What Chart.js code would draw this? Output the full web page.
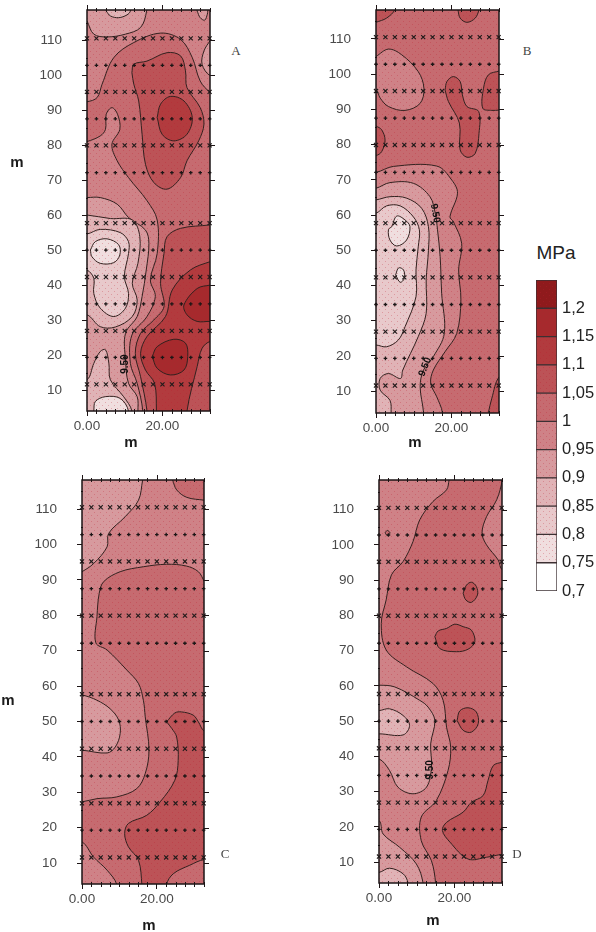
<!DOCTYPE html>
<html>
<head>
<meta charset="utf-8">
<title>MPa</title>
<script src="https://cdn.jsdelivr.net/npm/chart.js@4"></script>
<style>
    body { margin: 0; background: #fff; width: 596px; height: 932px; position: relative; overflow: hidden; }
    canvas { position: absolute; filter: blur(0.4px); }
    .t { position: absolute; transform: translate(-50%, -50%); color: #1c1c1c; white-space: nowrap; }
    .m { font: bold 15px "Liberation Sans", sans-serif; }
    .tag { font: 13px "Liberation Serif", serif; color: #444; }
    .unit { font: 19px "Liberation Sans", sans-serif; color: #222; }
</style>
</head>
<body>
<canvas id="panelA"></canvas>
<canvas id="panelB"></canvas>
<canvas id="panelC"></canvas>
<canvas id="panelD"></canvas>
<canvas id="scaleBar"></canvas>
<div class="t m" style="left:17px;top:161px">m</div>
<div class="t m" style="left:131px;top:441px">m</div>
<div class="t m" style="left:415px;top:441px">m</div>
<div class="t m" style="left:8px;top:699px">m</div>
<div class="t m" style="left:149px;top:924px">m</div>
<div class="t m" style="left:433px;top:919px">m</div>
<div class="t tag" style="left:236px;top:51px">A</div>
<div class="t tag" style="left:527px;top:51px">B</div>
<div class="t tag" style="left:225px;top:854px">C</div>
<div class="t tag" style="left:517px;top:854px">D</div>
<div class="t unit" style="left:556px;top:253px">MPa</div>
<script>
// sampling grid (m)
const sampleX = [0, 2.5, 5, 7.5, 10, 12.5, 15, 17.5, 20, 22.5, 25, 27.5, 30, 32.5];
const rowsCross = [110.5, 95.2, 79.9, 57.7, 42.3, 26.9, 11.6];
const rowsPlus = [102.8, 87.5, 72.1, 50, 34.6, 19.3];

// axis ticks
const yTicks = [10, 20, 30, 40, 50, 60, 70, 80, 90, 100, 110];
const xTicks = [0, 20];
const xMinorTicks = [2.5, 5, 7.5, 10, 12.5, 15, 17.5, 22.5, 25, 27.5, 30, 32.5];
const yMinorTicks = [15, 25, 35, 45, 55, 65, 75, 85, 95, 105, 115];

// colour bar
const levels = [0.7, 0.75, 0.8, 0.85, 0.9, 0.95, 1, 1.05, 1.1, 1.15, 1.2, 1.25];
const levelColors = ['#ffffff', '#f0dedf', '#e8c9cb', '#e0b3b6', '#d79a9e', '#cf8287', '#c66b70', '#bc5357', '#b23b3e', '#a62a2d', '#8f1a1c'];

// contour regions, painted in order: [lower level, [x m, y m]...]
const contoursA = [
    [0.95, [[-20, -20], [60, -20], [60, 150], [-20, 150]]],
    [0.9, [[0, 115.5], [1.8, 111.7], [5.3, 110.9], [10.2, 111.7], [14.2, 113.6], [15.8, 118.3], [16, 123], [-4, 123], [-4, 115.5]]],
    [0.85, [[5.1, 118.3], [6.2, 116.9], [8.4, 116.4], [10.6, 117.2], [11.5, 118.3], [12, 122], [5, 122]]],
    [0.9, [[29.2, 118.3], [30, 116.4], [31.2, 115.7], [31.9, 117.4], [32, 118.3], [32.5, 122], [29, 122]]],
    [0.9, [[32.7, 110], [31, 106.9], [30.5, 103.1], [32.7, 99.8], [36, 100], [36, 110]]],
    [1, [[-4, 92.5], [0, 92.4], [2.7, 93.6], [4, 97.4], [7.1, 105], [12.4, 109.3], [19.5, 112], [24.8, 110.2], [27.9, 105], [30, 98.3], [32.7, 95], [37, 92], [37, -3], [14.8, -3], [14.8, 4], [13.3, 11.9], [11.5, 17.6], [11.9, 25.7], [15.9, 31], [18.1, 36.7], [16.8, 41.5], [18.6, 49], [18.6, 58.6], [15.9, 64.1], [11, 70.7], [8, 75.5], [6.6, 80.2], [8.7, 84.5], [8.1, 88.8], [6.6, 90.7], [5.1, 88.8], [4.9, 84.5], [3.5, 82.6], [0, 81], [-4, 80]]],
    [1.05, [[11.9, 100.7], [12.4, 103.1], [15.9, 104], [21.2, 106.4], [24.8, 105.5], [26.1, 101.2], [26.5, 96.4], [30, 90.7], [31, 86], [29.6, 81.2], [26.5, 75.5], [24.8, 70.7], [21.2, 67.4], [17.7, 69.3], [15.5, 74.5], [14.6, 83.1], [13.7, 92.6], [12.4, 97.4]]],
    [1.1, [[18.6, 87.9], [19.5, 91.7], [22.1, 93.9], [25.7, 92.6], [27.9, 87.9], [26.5, 83.1], [23, 81.2], [19.9, 83.1]]],
    [1.05, [[37, 58], [32.7, 57.2], [24.8, 56.2], [21.2, 53.8], [20.4, 49], [19.5, 40.5], [20.4, 33.8], [17.7, 30], [14.2, 26.2], [12.8, 20.5], [14.2, 13.8], [15.9, 4], [16, -3], [37, -3]]],
    [1.1, [[37, 48], [32.7, 46.7], [27.4, 44.3], [22.6, 38.6], [20.8, 31], [15.9, 25.3], [14.2, 20.5], [15.5, 15.7], [17.9, 11.9], [18.4, 4], [18.4, -3], [26.5, -3], [26.5, 4], [29.2, 16.7], [30.5, 21.9], [32.7, 23.9], [37, 24]]],
    [1.15, [[37, 41], [32.7, 40], [29.2, 39], [25.7, 34.3], [26.5, 31.5], [29.2, 29.6], [32.7, 29.6], [37, 29]]],
    [1.15, [[17.3, 19.6], [18.6, 22.4], [23, 24.5], [26.1, 23.4], [26.7, 19.6], [25.7, 15.7], [22.1, 14.3], [18.6, 16.2]]],
    [0.9, [[-4, 65], [0, 65], [3.5, 65], [8, 63.1], [11, 59.3], [15.5, 55.7], [16.4, 51.9], [15.7, 44.3], [14.6, 36.7], [13.3, 31], [10.2, 26.2], [10.2, 18.6], [11, 11.9], [13.3, 8.1], [13.5, 4], [13.5, -3], [-4, -3]]],
    [0.85, [[-4, 60], [0, 60], [6.2, 59], [12, 58.6], [14, 53.8], [13.5, 46.2], [12, 40.5], [13.3, 35.7], [12, 31], [7.5, 28], [3.5, 28.1], [0, 31.5], [-4, 31]]],
    [0.8, [[-4, 54.6], [0, 54.6], [3.5, 55.9], [8.8, 55], [11, 52.4], [11, 49], [9.9, 42.4], [11, 37.6], [10.2, 33.4], [7.1, 31], [3.5, 33.4], [1.8, 37.6], [1.8, 41.9], [0, 44.3], [-4, 45]]],
    [0.75, [[0.9, 50], [2.2, 52.4], [5.3, 53.2], [8.4, 51.5], [8.7, 48.6], [7.1, 46.4], [3.5, 46.2], [1.3, 48.1]]],
    [0.85, [[-4, 13], [0, 12.9], [1.8, 17.6], [3.5, 21], [4.9, 21.5], [5.8, 17.6], [6.2, 12.9], [9.7, 8.1], [11.9, 4], [12, -3], [-4, -3]]],
    [0.75, [[1.8, 4], [2.2, 6.7], [4.9, 8.1], [8.8, 7.6], [11, 4], [11, -3], [2, -3]]]
];
const contoursB = [
    [1, [[-20, -20], [60, -20], [60, 150], [-20, 150]]],
    [1.05, [[0, 114.7], [2.8, 115.9], [5, 118.3], [5.5, 122], [-4, 122], [-4, 114.5]]],
    [1.05, [[21.7, 118.3], [22.3, 115.9], [24.1, 114.7], [26.3, 115.9], [27.3, 118.3], [28, 122], [21, 122]]],
    [1.05, [[0, 85.3], [1.5, 84.2], [2.4, 81.3], [1.5, 78], [0, 76.9], [-4, 77], [-4, 85]]],
    [1.05, [[18.3, 95.5], [18.8, 97.9], [20.5, 99.3], [22.3, 97.9], [22.9, 94.1], [24.1, 90.8], [27.2, 89.4], [27.3, 83.2], [26.3, 77.5], [24.1, 76.4], [22.3, 78.5], [22.1, 86.1], [19.2, 92.2]]],
    [1.05, [[32.7, 100.9], [29.8, 99.8], [28.5, 96], [28.3, 90.3], [30.7, 89.7], [32.7, 89.8], [37, 90], [37, 101]]],
    [1.05, [[29.8, 4], [30.7, 8], [32.7, 14.1], [37, 16], [37, -3], [30, -3]]],
    [0.95, [[0, 105], [3.3, 107.1], [6.8, 105.5], [11.2, 100.7], [12.7, 96], [11.7, 91.7], [7.7, 89.7], [3.3, 90.8], [1.1, 93.2], [0, 95.5], [-4, 95], [-4, 105]]],
    [0.95, [[-4, 72], [0, 72.1], [4.6, 73.8], [16.1, 73.9], [20.1, 69.9], [21.6, 66.2], [19.6, 59.5], [20.5, 58.1], [22.7, 52], [21.9, 44.4], [22.5, 35.9], [21.4, 26.4], [18.3, 21.2], [15.2, 16], [14.5, 12.2], [16.1, 8.4], [17.6, 3.9], [17.6, -3], [-4, -3]]],
    [0.9, [[-4, 67], [0, 67.6], [3.7, 69.2], [9.9, 69], [14.3, 65.2], [15.7, 60.5], [16.3, 55.8], [17, 48.2], [17.4, 37.8], [18.1, 26.4], [15.2, 19.8], [12.6, 16], [11.7, 11.3], [12.6, 3.9], [12.6, -3], [-4, -3]]],
    [0.85, [[-4, 64], [0, 64.3], [3.7, 65.2], [8.1, 64.8], [12.1, 61.9], [13.9, 56.7], [13.9, 50], [13.3, 41.6], [13.3, 32.1], [11.2, 25.5], [7.1, 16], [6.5, 13.6], [3.3, 15], [1.1, 13.6], [1.1, 10.3], [3.7, 7.4], [4, 3.9], [4, -3], [-4, -3]]],
    [0.8, [[-4, 60], [0, 60.5], [2.8, 62.6], [6.4, 62.6], [9.9, 59.5], [11.5, 55.8], [11.2, 51], [10.6, 44.4], [10.6, 36.8], [7.7, 28.3], [5.9, 24.5], [2.8, 22.6], [0, 23.1], [-4, 23]]],
    [0.75, [[4.2, 56.7], [5.5, 59.7], [7.7, 58.6], [9, 56.7], [8.1, 52.9], [5.5, 51.2], [3.7, 52.9], [3.3, 55.8]]],
    [0.75, [[5.2, 43], [6, 45], [7.3, 44.4], [7.5, 42], [6.4, 40.9]]]
];
const contoursC = [
    [0.95, [[-20, -20], [60, -20], [60, 150], [-20, 150]]],
    [0.9, [[16.2, 118.2], [15.1, 112.5], [11.5, 107.8], [7.1, 103.1], [6.7, 99.3], [3.1, 94.6], [0, 92.3], [-4, 90], [-4, 123], [16.5, 123]]],
    [1, [[24.2, 118.2], [25.3, 115.4], [28, 113.3], [32.7, 112.5], [37, 112], [37, 123], [24, 123]]],
    [1, [[32.7, 89.5], [31.1, 92.3], [27.9, 93.9], [22.6, 94.4], [16.4, 93.7], [10.2, 92.3], [5.8, 89.5], [4.6, 86.2], [4, 79.6], [3.7, 72.2], [6.7, 70.2], [12, 64.5], [15.1, 60.7], [16.4, 56], [16.9, 51.3], [17.9, 41.9], [16.9, 35.3], [14.6, 31], [9.3, 28.7], [4, 28.2], [0, 27.3], [-4, 27], [-4, 16], [0, 16], [3.1, 11.7], [6.7, 8], [9.3, 3.9], [9.5, -3], [37, -3], [37, 88]]],
    [0.9, [[-4, 58], [0, 57.5], [4, 56], [7.5, 53.6], [9.8, 50.4], [10.2, 46.6], [8.9, 42.8], [6.7, 41.1], [0, 41.9], [-4, 42]]],
    [1.05, [[22.6, 49.9], [24.8, 52.4], [26.6, 52.7], [29.7, 51.8], [31.1, 49.9], [32.7, 47.2], [37, 46], [37, 10.5], [32.7, 11], [28.8, 9.4], [24.4, 7], [22.6, 3.9], [22.6, -3], [16.3, -3], [16, 3.9], [15.1, 10.8], [12.4, 14.6], [11.4, 18.3], [12.4, 21.2], [17.3, 23.5], [20.9, 27.3], [24.8, 33.4], [25.7, 39], [25.3, 45.6], [24, 48]]]
];
const contoursD = [
    [0.95, [[-20, -20], [60, -20], [60, 150], [-20, 150]]],
    [1, [[18.6, 118.5], [17.9, 115.6], [14.3, 112.3], [10.8, 107.1], [9, 100.9], [6.4, 95.3], [3.3, 91.5], [1.9, 84.4], [0.6, 77.7], [1.9, 70.2], [7.3, 65.4], [14.3, 60.7], [17, 55.9], [17.9, 48.3], [19, 42.6], [18.3, 36], [15.2, 27.5], [11.2, 22.8], [11.2, 16.1], [13.9, 10.4], [15, 4], [15, -3], [37, -3], [37, 92], [32.7, 92.9], [31.6, 95.7], [28.5, 100], [27.3, 103.3], [28.5, 108], [31.2, 112.8], [32.7, 118.5], [33, 123], [18.5, 123]]],
    [1.05, [[22.3, 86.3], [23.2, 88.6], [24.5, 89.4], [25.8, 88.2], [26.1, 85.8], [24.5, 83.7], [23, 84.4]]],
    [1.05, [[14.8, 74], [15.7, 75.6], [17.9, 76.3], [20.1, 77.5], [22.3, 76.8], [24.5, 75.8], [25.4, 72.5], [23.6, 70.4], [20.5, 69.7], [16.1, 70.6]]],
    [1.05, [[20.7, 50.2], [21.4, 52.9], [23.6, 53.8], [25.8, 52.6], [26.3, 49.3], [24.5, 46.9], [22.3, 47.4]]],
    [1.05, [[32.7, 38.4], [30.3, 37.4], [28.9, 33.2], [27.6, 28.9], [24.5, 27], [22.3, 24.2], [17.9, 21.3], [16.8, 19], [18.8, 15.7], [23.6, 10.9], [28.5, 11.4], [32.7, 12.2], [37, 12], [37, 39]]],
    [0.9, [[-4, 39], [0, 39.3], [2.8, 36], [5, 31.3], [9, 29.4], [12.6, 31.3], [13.9, 37], [13.7, 43.6], [14.8, 50.2], [13, 54], [10.8, 55.9], [4.2, 59.7], [0, 60.2], [-4, 60]]],
    [0.85, [[-4, 53], [0, 53], [2.8, 53.5], [6.4, 51.6], [8.1, 48.8], [6.4, 46.1], [0, 46.4], [-4, 46]]],
    [0.9, [[-4, 22], [0, 21.8], [1.1, 18], [5.5, 14.2], [9.9, 9.5], [11.7, 4], [12, -3], [-4, -3]]],
    [0.85, [[-4, 7], [0, 7.1], [2.8, 8.3], [6.4, 6.7], [7.7, 4], [8, -3], [-4, -3]]],
    [1, [[1.6, 103.4], [2.2, 104.1], [2.9, 103.4], [2.2, 102.7]]]
];

// contour value labels: [x m, y m, angle deg]
const labelsA = [[10.1, 17.4, -90]];
const labelsB = [[15.7, 60.5, 80], [13, 16.9, -68]];
const labelsC = [];
const labelsD = [[13.6, 36.2, -90]];
const contourLabel = '9.50';

function stipple(color) {
    const tile = document.createElement('canvas');
    tile.width = 6;
    tile.height = 6;
    const c = tile.getContext('2d');
    c.fillStyle = color;
    c.fillRect(0, 0, 6, 6);
    if (color !== '#ffffff') {
        c.fillStyle = 'rgba(190, 30, 45, 0.28)';
        c.fillRect(1, 1, 1, 1);
        c.fillRect(4, 4, 1, 1);
    }
    return c.createPattern(tile, 'repeat');
}
const patterns = levelColors.map(stipple);
const fillFor = level => patterns[Math.round((level - 0.7) / 0.05)];

// extra ticks and frame, value labels on the contours
const framePlugin = {
    id: 'frame',
    afterDraw(chart, args, opts) {
        const { ctx, chartArea: a, scales: { x, y } } = chart;
        ctx.save();
        ctx.strokeStyle = '#1d1516';
        ctx.lineWidth = 1;
        ctx.beginPath();
        xMinorTicks.forEach(v => {
            const px = Math.round(x.getPixelForValue(v)) + 0.5;
            ctx.moveTo(px, a.top - 2);
            ctx.lineTo(px, a.top + 2);
            ctx.moveTo(px, a.bottom - 2);
            ctx.lineTo(px, a.bottom + 3);
        });
        xTicks.forEach(v => {
            const px = Math.round(x.getPixelForValue(v)) + 0.5;
            ctx.moveTo(px, a.top - 5);
            ctx.lineTo(px, a.top);
        });
        yTicks.forEach(v => {
            const py = Math.round(y.getPixelForValue(v)) + 0.5;
            ctx.moveTo(a.right, py);
            ctx.lineTo(a.right + 5, py);
        });
        yMinorTicks.forEach(v => {
            const py = Math.round(y.getPixelForValue(v)) + 0.5;
            ctx.moveTo(a.left - 1, py);
            ctx.lineTo(a.left + 1, py);
        });
        ctx.stroke();
        ctx.lineWidth = 1.5;
        ctx.strokeRect(a.left, a.top, a.right - a.left, a.bottom - a.top);

        ctx.fillStyle = '#111';
        ctx.font = 'bold 10px "Liberation Sans", sans-serif';
        ctx.textAlign = 'center';
        ctx.textBaseline = 'middle';
        opts.labels.forEach(([lx, ly, angle]) => {
            ctx.save();
            ctx.translate(x.getPixelForValue(lx), y.getPixelForValue(ly));
            ctx.rotate(angle * Math.PI / 180);
            ctx.fillText(contourLabel, 0, 0);
            ctx.restore();
        });
        ctx.restore();
    }
};

const axisFont = { family: '"Liberation Sans", sans-serif', size: 13.5 };
const padLeft = 70, padRight = 15, padTop = 8, padBottom = 36;

function makePanel(id, box, contours, labels) {
    const canvas = document.getElementById(id);
    canvas.width = box.right - box.left + padLeft + padRight;
    canvas.height = box.bottom - box.top + padTop + padBottom;
    canvas.style.left = (box.left - padLeft) + 'px';
    canvas.style.top = (box.top - padTop) + 'px';

    const markers = (rows, style, radius, width, color) => ({
        data: rows.flatMap(y => sampleX.map(x => ({ x, y }))),
        showLine: false,
        pointStyle: style,
        pointRadius: radius,
        pointBorderWidth: width,
        pointBorderColor: color,
        clip: 6,
        order: 0
    });
    const regions = contours.map(([level, pts], i) => ({
        data: pts.concat([pts[0]]).map(([x, y]) => ({ x, y })),
        showLine: true,
        fill: 'shape',
        backgroundColor: fillFor(level),
        borderColor: '#33211f',
        borderWidth: 1,
        tension: 0.35,
        capBezierPoints: false,
        pointRadius: 0,
        clip: 0,
        order: contours.length - i
    }));

    new Chart(canvas, {
        type: 'scatter',
        data: {
            datasets: [
                markers(rowsCross, 'crossRot', 2.9, 1.15, '#211b1b'),
                markers(rowsPlus, 'cross', 1.8, 1.3, '#1c1616')
            ].concat(regions)
        },
        plugins: [framePlugin],
        options: {
            responsive: false,
            animation: false,
            events: [],
            layout: { padding: { left: 0, right: padRight, top: padTop, bottom: 0 } },
            plugins: { legend: { display: false }, tooltip: { enabled: false }, frame: { labels } },
            scales: {
                x: {
                    type: 'linear',
                    min: 0,
                    max: 32.6,
                    afterBuildTicks: s => { s.ticks = xTicks.map(value => ({ value })); },
                    afterFit: s => { s.height = padBottom; s.paddingLeft = 0; s.paddingRight = 0; },
                    grid: { drawOnChartArea: false, tickLength: 5, tickColor: '#1d1516' },
                    border: { display: false },
                    ticks: { color: '#4a4a4a', font: axisFont, padding: 2, maxRotation: 0, callback: v => v.toFixed(2) }
                },
                y: {
                    type: 'linear',
                    min: box.yMin,
                    max: box.yMax,
                    afterBuildTicks: s => { s.ticks = yTicks.map(value => ({ value })); },
                    afterFit: s => { s.width = padLeft; s.paddingTop = 0; s.paddingBottom = 0; },
                    grid: { drawOnChartArea: false, tickLength: 5, tickColor: '#1d1516' },
                    border: { display: false },
                    ticks: { color: '#4a4a4a', font: axisFont, padding: 20, callback: v => String(v) }
                }
            }
        }
    });
}

makePanel('panelA', { left: 87, right: 210, top: 10, bottom: 411, yMin: 4, yMax: 118.6 }, contoursA, labelsA);
makePanel('panelB', { left: 376, right: 499, top: 10, bottom: 413, yMin: 3.8, yMax: 118.2 }, contoursB, labelsB);
makePanel('panelC', { left: 82, right: 204, top: 480, bottom: 884, yMin: 4.1, yMax: 118.2 }, contoursC, labelsC);
makePanel('panelD', { left: 379, right: 502, top: 480, bottom: 883, yMin: 4.1, yMax: 118.4 }, contoursD, labelsD);

// colour bar
const barCanvas = document.getElementById('scaleBar');
barCanvas.width = 66;
barCanvas.height = 335;
barCanvas.style.left = '530px';
barCanvas.style.top = '270px';
new Chart(barCanvas, {
    type: 'bar',
    data: {
        labels: ['MPa'],
        datasets: levelColors.map((_, i) => ({
            data: [[levels[i], levels[i + 1]]],
            backgroundColor: patterns[i],
            borderColor: '#3c3033',
            borderWidth: 1,
            borderSkipped: false,
            grouped: false,
            barPercentage: 1,
            categoryPercentage: 1
        }))
    },
    options: {
        responsive: false,
        animation: false,
        events: [],
        layout: { padding: { left: 6, top: 10, bottom: 14, right: 0 } },
        plugins: { legend: { display: false }, tooltip: { enabled: false } },
        scales: {
            x: { display: false },
            y: {
                position: 'right',
                min: 0.7,
                max: 1.25,
                afterBuildTicks: s => { s.ticks = levels.slice(0, -1).map(value => ({ value })); },
                afterFit: s => { s.width = 39; s.paddingTop = 0; s.paddingBottom = 0; },
                grid: { display: false, drawTicks: false },
                border: { display: false },
                ticks: {
                    color: '#222',
                    font: { family: '"Liberation Sans", sans-serif', size: 16.5 },
                    padding: 5,
                    callback: v => String(Number(v.toFixed(2))).replace('.', ',')
                }
            }
        }
    }
});
</script>
</body>
</html>
